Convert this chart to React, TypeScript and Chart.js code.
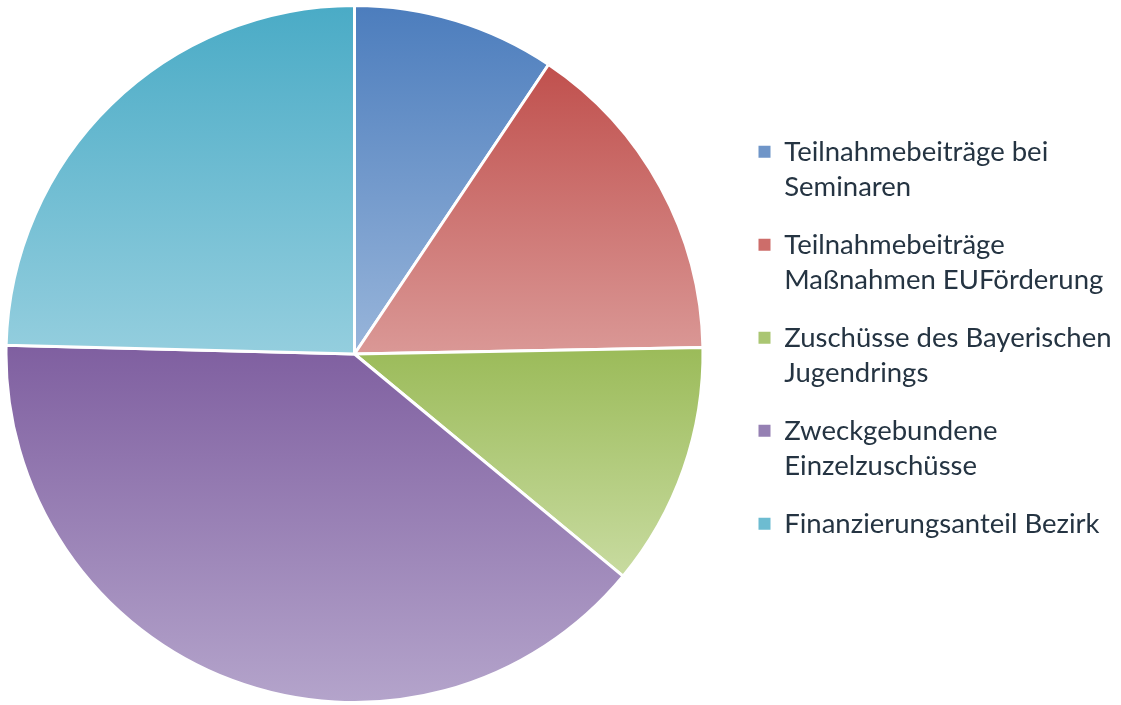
import React, { useEffect, useRef } from "react";
import { Chart, registerables } from "chart.js";

Chart.register(...registerables);

const categories: string[][] = [
  ["Teilnahmebeiträge bei", "Seminaren"],
  ["Teilnahmebeiträge", "Maßnahmen EUFörderung"],
  ["Zuschüsse des Bayerischen", "Jugendrings"],
  ["Zweckgebundene", "Einzelzuschüsse"],
  ["Finanzierungsanteil Bezirk"],
];
const shares: number[] = [9.4, 15.3, 11.3, 39.4, 24.6];
const darkColors: string[] = ["#4C7DBD", "#C0504D", "#9BBB59", "#7F5FA0", "#4AABC6"];
const lightColors: string[] = ["#98B5DA", "#DA9896", "#C8DBA0", "#B4A4CB", "#94CEDE"];
const boxColors: string[] = ["#6F95C8", "#CD6D6A", "#AAC672", "#9580B3", "#6DBCD1"];

const W = 1121;
const H = 705;
const FONT_FAMILY = "Lato, 'Open Sans', sans-serif";
const FONT_SIZE = 27.5;
const LINE_H = 35.5;
const LABEL_PAD = 22;
const BOX = 12;
const PIE_CX = 354.5;
const LEGEND_LEFT = 736.5;

function sliceGradient(ctx: any) {
  const chart = ctx.chart;
  const i = ctx.dataIndex;
  const ca = chart.chartArea;
  const meta = chart.getDatasetMeta(ctx.datasetIndex);
  const ctrl: any = meta && meta.controller;
  if (!ca || !ctrl || !ctrl.outerRadius) return boxColors[i];
  const cx = (ca.left + ca.right) / 2 + (ctrl.offsetX || 0);
  const cy = (ca.top + ca.bottom) / 2 + (ctrl.offsetY || 0);
  const r = ctrl.outerRadius;
  const total = shares.reduce((a, b) => a + b, 0);
  let before = 0;
  for (let k = 0; k < i; k++) before += shares[k];
  const a0 = -Math.PI / 2 + (before / total) * Math.PI * 2;
  const a1 = a0 + (shares[i] / total) * Math.PI * 2;
  const ys = [cy, cy + r * Math.sin(a0), cy + r * Math.sin(a1)];
  const within = (t: number) => {
    for (let m = -2; m <= 2; m++) {
      const tt = t + m * Math.PI * 2;
      if (tt >= a0 && tt <= a1) return true;
    }
    return false;
  };
  if (within(Math.PI / 2)) ys.push(cy + r);
  if (within(-Math.PI / 2)) ys.push(cy - r);
  void cx;
  const y0 = Math.min(...ys);
  const y1 = Math.max(...ys);
  const g = chart.ctx.createLinearGradient(0, y0, 0, y1);
  g.addColorStop(0, darkColors[i]);
  g.addColorStop(1, lightColors[i]);
  return g;
}

const shiftLegend = {
  id: "shiftLegend",
  afterLayout(chart: any) {
    const lg = chart.legend;
    if (!lg) return;
    const dx = LEGEND_LEFT - lg.left;
    lg.left += dx;
    lg.right += dx;
  },
};

export default function App() {
  const ref = useRef<HTMLCanvasElement | null>(null);

  useEffect(() => {
    document.body.style.margin = "0";
    const canvas = ref.current;
    if (!canvas) return;

    const mctx = canvas.getContext("2d")!;
    mctx.font = `${FONT_SIZE}px ${FONT_FAMILY}`;
    let maxW = 0;
    categories.forEach((lines) => {
      const longest = lines.reduce((a, b) => (a.length > b.length ? a : b));
      maxW = Math.max(maxW, mctx.measureText(longest).width);
    });
    const legendWidth = LABEL_PAD + BOX + FONT_SIZE / 2 + maxW + 10;
    const padRight = W - 2 * PIE_CX - legendWidth;

    const chart = new Chart(canvas, {
      type: "pie",
      data: {
        labels: categories,
        datasets: [
          {
            data: shares,
            backgroundColor: sliceGradient as any,
            borderColor: "#ffffff",
            borderWidth: 3,
            hoverOffset: 0,
          },
        ],
      },
      plugins: [shiftLegend],
      options: {
        responsive: false,
        animation: false,
        layout: { padding: { left: 0, right: padRight, top: 4, bottom: 1 } },
        plugins: {
          tooltip: { enabled: false },
          legend: {
            position: "right",
            align: "start",
            title: {
              display: true,
              text: "",
              font: { size: 10, lineHeight: 1 },
              padding: { top: 102, bottom: 0 },
            },
            labels: {
              boxWidth: BOX,
              boxHeight: BOX,
              padding: LABEL_PAD,
              color: "#253442",
              font: { family: FONT_FAMILY, size: FONT_SIZE, lineHeight: LINE_H / FONT_SIZE },
              generateLabels: (c: any) =>
                (c.data.labels as string[][]).map((lbl, i) => ({
                  text: lbl,
                  fillStyle: boxColors[i],
                  strokeStyle: boxColors[i],
                  lineWidth: 0,
                  fontColor: "#253442",
                  hidden: false,
                  index: i,
                })),
            },
          },
        },
      },
    });
    return () => chart.destroy();
  }, []);

  return (
    <div style={{ position: "fixed", left: 0, top: 0, width: W, height: H, background: "#fff" }}>
      <canvas ref={ref} width={W} height={H} style={{ display: "block", width: W, height: H }} />
    </div>
  );
}
